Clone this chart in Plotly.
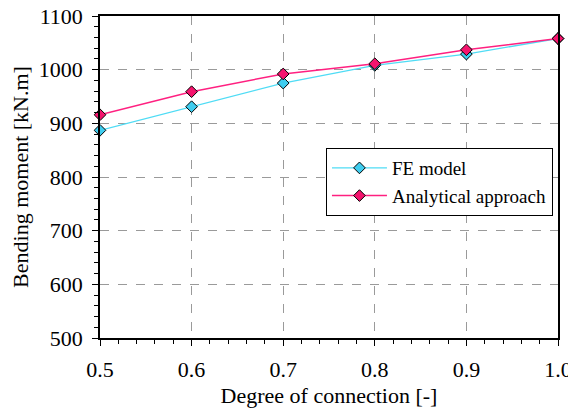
import plotly.graph_objects as go

degree = [0.5, 0.6, 0.7, 0.8, 0.9, 1.0]
fe_model = [887, 931, 975, 1008, 1029, 1058]
analytical = [916, 959, 992, 1011, 1037, 1058]

font_family = "Liberation Serif"

fig = go.Figure()
fig.add_trace(go.Scatter(
    x=degree, y=fe_model, mode="lines+markers", name="FE model",
    line=dict(color="#4fdcf5", width=1.3),
    marker=dict(symbol="diamond", size=9, color="#3fcdef", line=dict(color="black", width=1)),
    cliponaxis=False,
))
fig.add_trace(go.Scatter(
    x=degree, y=analytical, mode="lines+markers", name="Analytical approach",
    line=dict(color="#ff2080", width=1.5),
    marker=dict(symbol="diamond", size=9, color="#f5146e", line=dict(color="black", width=1)),
    cliponaxis=False,
))

axis_common = dict(
    showline=True, linecolor="black", linewidth=1.5, mirror=True,
    ticks="outside", ticklen=6, tickcolor="black", tickwidth=1,
    showgrid=True, gridcolor="#9a9a9a", griddash="dash", gridwidth=1,
    zeroline=False, automargin=False, ticklabeloverflow="allow",
    tickfont=dict(family=font_family, size=22, color="black"),
)

fig.update_xaxes(
    range=[0.5, 1.0], tickvals=degree, ticktext=["0.5", "0.6", "0.7", "0.8", "0.9", "1.0"],
    minor=dict(dtick=0.02, ticks="outside", ticklen=4, tickcolor="black", showgrid=False),
    ticklabelstandoff=5,
    title=dict(text="Degree of connection [-]", font=dict(family=font_family, size=22, color="black"), standoff=6),
    **axis_common,
)
fig.update_yaxes(
    range=[500, 1100], dtick=100,
    minor=dict(dtick=20, ticks="outside", ticklen=4, tickcolor="black", showgrid=False),
    ticklabelstandoff=5,
    title=dict(text="Bending moment [kN.m]", font=dict(family=font_family, size=22, color="black"), standoff=6),
    **axis_common,
)

fig.update_layout(
    width=568, height=407,
    margin=dict(l=92, r=18, t=8, b=77),
    paper_bgcolor="white", plot_bgcolor="white",
    font=dict(family=font_family, color="black"),
    legend=dict(
        x=0.989, y=0.59, xanchor="right", yanchor="top",
        bgcolor="white", bordercolor="black", borderwidth=1,
        font=dict(family=font_family, size=19, color="black"),
        itemwidth=55,
    ),
)

fig.write_html("out.html")
